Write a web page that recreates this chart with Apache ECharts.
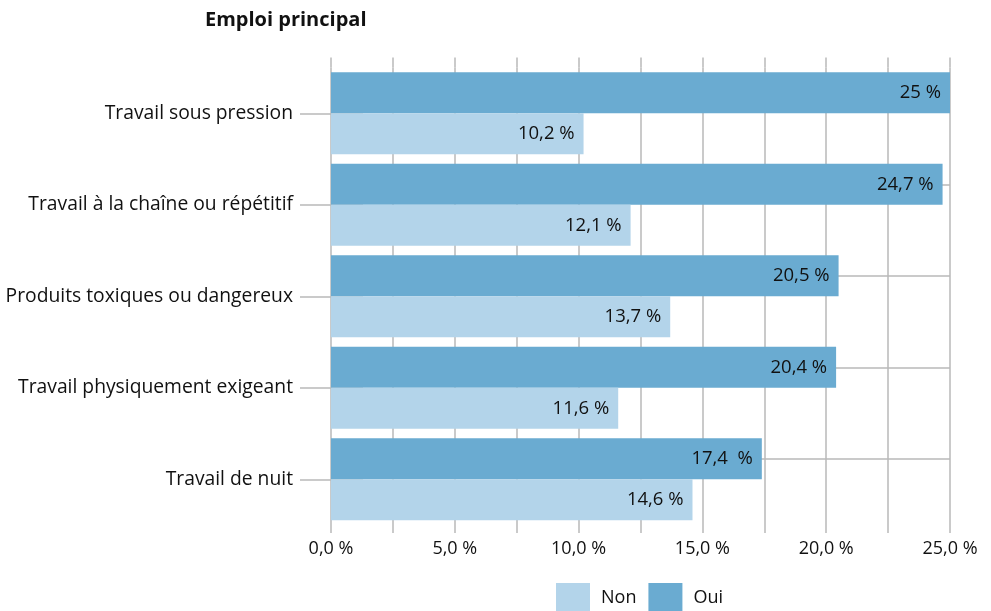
<!DOCTYPE html>
<html>
<head>
<meta charset="utf-8">
<script src="https://cdn.jsdelivr.net/npm/echarts@6/dist/echarts.min.js"></script>
<style>
  html, body { margin: 0; padding: 0; background: #fff; }
  #chart { width: 991px; height: 611px; }
</style>
</head>
<body>
<div id="chart"></div>
<script>
const categories = [
  "Travail sous pression",
  "Travail à la chaîne ou répétitif",
  "Produits toxiques ou dangereux",
  "Travail physiquement exigeant",
  "Travail de nuit"
]
const ouiValues = [25, 24.7, 20.5, 20.4, 17.4]
const nonValues = [10.2, 12.1, 13.7, 11.6, 14.6]
const ouiLabels = ["25 %", "24,7 %", "20,5 %", "20,4 %", "17,4  %"]
const nonLabels = ["10,2 %", "12,1 %", "13,7 %", "11,6 %", "14,6 %"]

const gridColor = "#b9b9b9"
const fontFamily = "'Open Sans', 'Noto Sans', sans-serif"

const chart = echarts.init(document.getElementById("chart"))

function pctLabel(v) {
  if (v % 5 !== 0) return ""
  return v.toFixed(1).replace(".", ",") + " %"
}

chart.setOption({
  animation: false,
  textStyle: { fontFamily: fontFamily },
  title: {
    text: "Emploi principal",
    left: 200,
    top: 5,
    textStyle: { fontSize: 20, fontWeight: "bold", color: "#111", fontFamily: fontFamily }
  },
  legend: {
    data: ["Non", "Oui"],
    left: 551,
    top: 578,
    itemWidth: 34,
    itemHeight: 30,
    itemGap: 12,
    icon: "rect",
    textStyle: { fontSize: 18, color: "#111", padding: [0, 0, 0, 6] }
  },
  grid: { left: 331, right: 41, top: 67.5, bottom: 86, containLabel: false },
  xAxis: [
    {
      type: "value",
      min: 0,
      max: 25,
      interval: 2.5,
      axisLine: { show: false },
      axisTick: { show: true, length: 8, lineStyle: { color: gridColor, width: 1.5 } },
      splitLine: { show: true, lineStyle: { color: gridColor, width: 1.5 } },
      axisLabel: { formatter: pctLabel, fontSize: 18, color: "#111", margin: 15 }
    },
    {
      type: "value",
      position: "top",
      min: 0,
      max: 25,
      interval: 2.5,
      axisLine: { show: false },
      axisTick: { show: true, length: 10, lineStyle: { color: gridColor, width: 1.5 } },
      splitLine: { show: false },
      axisLabel: { show: false }
    }
  ],
  yAxis: [
    {
      type: "category",
      data: categories,
      inverse: true,
      axisLine: { show: false },
      axisTick: { show: true, alignWithLabel: true, length: 31, lineStyle: { color: gridColor, width: 1.5 } },
      axisLabel: { fontSize: 19.3, color: "#111", margin: 38 },
      splitLine: { show: false }
    },
    {
      type: "category",
      data: categories,
      inverse: true,
      position: "right",
      axisLine: { show: false },
      axisTick: { show: true, alignWithLabel: true, length: 32, lineStyle: { color: gridColor, width: 1.5 } },
      axisLabel: { show: false },
      splitLine: { show: false }
    }
  ],
  series: [
    {
      name: "Oui",
      type: "bar",
      data: ouiValues,
      barWidth: 41,
      barGap: "0%",
      itemStyle: { color: "#6aabd1" },
      label: {
        show: true,
        position: "insideRight",
        distance: 9,
        fontSize: 18.5,
        color: "#111",
        formatter: (p) => ouiLabels[p.dataIndex]
      },
      markLine: {
        silent: true,
        z: 1,
        symbol: "none",
        label: { show: false },
        lineStyle: { color: gridColor, type: "solid", width: 1.5 },
        data: categories.map((c) => ({ yAxis: c }))
      }
    },
    {
      name: "Non",
      type: "bar",
      data: nonValues,
      barWidth: 41,
      barGap: "0%",
      itemStyle: { color: "#b3d4ea" },
      label: {
        show: true,
        position: "insideRight",
        distance: 9,
        fontSize: 18.5,
        color: "#111",
        formatter: (p) => nonLabels[p.dataIndex]
      }
    }
  ]
})
</script>
</body>
</html>
